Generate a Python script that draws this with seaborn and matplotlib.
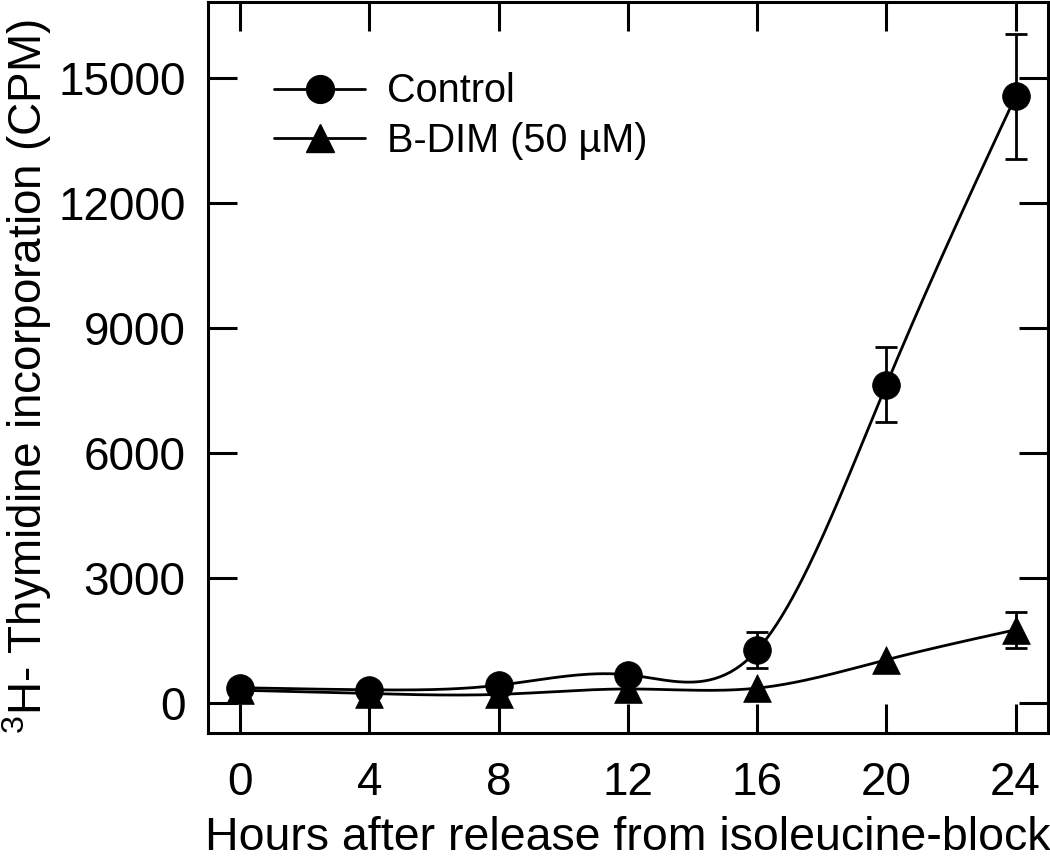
import matplotlib
matplotlib.use("Agg")
import matplotlib.pyplot as plt
from matplotlib.lines import Line2D
import numpy as np
import pandas as pd
import seaborn as sns

# values
hours = [0, 4, 8, 12, 16, 20, 24]
control_cpm = [360, 310, 420, 670, 1260, 7630, 14550]
control_err = [0, 0, 0, 0, 430, 900, 1500]
bdim_cpm = [300, 220, 200, 330, 350, 1030, 1750]
bdim_err = [0, 0, 0, 0, 0, 0, 430]
series_names = ["Control", "B-DIM (50 \u00b5M)"]
y_ticks = [0, 3000, 6000, 9000, 12000, 15000]
x_ticks = [0, 4, 8, 12, 16, 20, 24]


def natural_spline(x, y, n=300):
    """smooth curve through the points (natural cubic spline), only used to draw the line"""
    x = np.asarray(x, float)
    y = np.asarray(y, float)
    k = len(x)
    h = np.diff(x)
    A = np.zeros((k, k))
    b = np.zeros(k)
    A[0, 0] = A[-1, -1] = 1
    for i in range(1, k - 1):
        A[i, i - 1] = h[i - 1]
        A[i, i] = 2 * (h[i - 1] + h[i])
        A[i, i + 1] = h[i]
        b[i] = 6 * ((y[i + 1] - y[i]) / h[i] - (y[i] - y[i - 1]) / h[i - 1])
    M = np.linalg.solve(A, b)
    xs = np.linspace(x[0], x[-1], n)
    idx = np.clip(np.searchsorted(x, xs) - 1, 0, k - 2)
    x0, x1 = x[idx], x[idx + 1]
    hh = x1 - x0
    t0, t1 = x1 - xs, xs - x0
    ys = (M[idx] * t0**3 + M[idx + 1] * t1**3) / (6 * hh) \
        + (y[idx] / hh - M[idx] * hh / 6) * t0 \
        + (y[idx + 1] / hh - M[idx + 1] * hh / 6) * t1
    return xs, ys


sns.set_theme(style="ticks")
plt.rcParams['font.family'] = ['Liberation Sans', 'DejaVu Sans']
plt.rcParams['mathtext.fontset'] = 'custom'
plt.rcParams['mathtext.rm'] = 'Liberation Sans'
plt.rcParams['text.color'] = 'black'
plt.rcParams['axes.labelcolor'] = 'black'

df = pd.DataFrame({
    "hours": hours * 2,
    "cpm": control_cpm + bdim_cpm,
    "err": control_err + bdim_err,
    "group": [series_names[0]] * len(hours) + [series_names[1]] * len(hours),
})

fig = plt.figure(figsize=(10.5, 8.59), dpi=100)
ax = fig.add_axes([0.198, 0.147, 0.800, 0.851])

lw = 2.0
markers = {series_names[0]: "o", series_names[1]: "^"}
order = [series_names[1], series_names[0]]  # control drawn on top
for z, name in enumerate(order):
    sub = df[df["group"] == name]
    xs, ys = natural_spline(sub["hours"], sub["cpm"])
    ax.plot(xs, ys, color="black", lw=lw, zorder=2 + z * 2)
    has_err = sub["err"] > 0
    ax.errorbar(sub["hours"][has_err], sub["cpm"][has_err], yerr=sub["err"][has_err],
                fmt="none", ecolor="black", elinewidth=lw, capsize=8, capthick=lw,
                zorder=2 + z * 2)
    sns.scatterplot(x=sub["hours"], y=sub["cpm"], marker=markers[name], s=20 ** 2,
                    color="black", edgecolor="black", linewidth=0.5, ax=ax,
                    zorder=3 + z * 2, legend=False)

ax.set_xlim(-1, 25)
ax.set_ylim(-720, 16820)
ax.set_xticks(x_ticks)
ax.set_yticks(y_ticks)
ax.set_xticklabels([str(v) for v in x_ticks])
ax.set_yticklabels([str(v) for v in y_ticks])
ax.tick_params(axis="both", direction="in", length=21, width=2.2, labelsize=33,
               top=True, right=True, color="black", labelcolor="black")
ax.tick_params(axis="y", pad=16)
ax.tick_params(axis="x", pad=20)
for sp in ax.spines.values():
    sp.set_visible(True)
    sp.set_linewidth(2.2)
    sp.set_color("black")

ax.set_xlabel("Hours after release from isoleucine-block", fontsize=33.5, labelpad=8)
ax.set_ylabel(r"$\mathregular{^{3}}$H- Thymidine incorporation (CPM)", fontsize=33)
ax.yaxis.set_label_coords(-0.183, 0.487)

handles = [Line2D([], [], color="black", lw=lw, marker=markers[n], markersize=20)
           for n in series_names]
ax.legend(handles, series_names, loc="upper left", bbox_to_anchor=(0.06, 0.925),
          frameon=False, fontsize=28.5, handlelength=2.3, handletextpad=0.55,
          labelspacing=0.3, borderaxespad=0, labelcolor="black")

ax.grid(False)
fig.savefig("out.png", dpi=100)
